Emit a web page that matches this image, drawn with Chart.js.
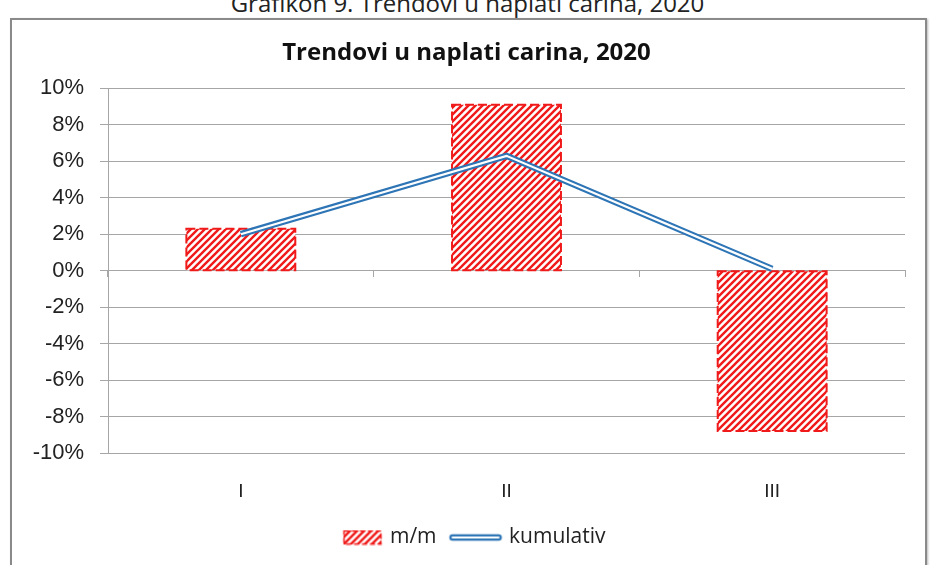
<!DOCTYPE html>
<html>
<head>
<meta charset="utf-8">
<script src="https://cdn.jsdelivr.net/npm/chart.js@4.4.1/dist/chart.umd.min.js"></script>
<style>
  html, body { margin: 0; padding: 0; background: #fff; }
  body { width: 935px; height: 565px; position: relative; overflow: hidden; }
  #caption {
    position: absolute; left: 0; width: 935px; top: -14px;
    text-align: center; font: 24px "Open Sans", sans-serif; color: #222;
  }
  #frame {
    position: absolute; left: 10px; top: 18px; width: 913px; height: 560px;
    border: 2px solid #8a8a8a; box-shadow: 1px 1px 2px #bbb;
  }
  #chart { position: absolute; left: 0; top: 0; }
</style>
</head>
<body>
<div id="caption">Grafikon 9. Trendovi u naplati carina, 2020</div>
<div id="frame"></div>
<canvas id="chart" width="935" height="565"></canvas>
<script>
// podaci
const categories = ['I', 'II', 'III'];
const mmValues = [2.3, 9.1, -8.8];        // m/m, %
const kumulativValues = [2.0, 6.3, 0.1];  // kumulativ, %
const yTicks = [-10, -8, -6, -4, -2, 0, 2, 4, 6, 8, 10];

const RED = '#f01a1a';
const BLUE = '#2e75b6';
const GRID = '#a6a6a6';

// kosa šrafura za stupce
function makeHatchTile() {
    const s = 7;
    const c = document.createElement('canvas');
    c.width = s; c.height = s;
    const g = c.getContext('2d');
    g.fillStyle = '#fff';
    g.fillRect(0, 0, s, s);
    g.strokeStyle = RED;
    g.lineWidth = 2.4;
    g.beginPath();
    g.moveTo(-2, s + 2); g.lineTo(s + 2, -2);
    g.moveTo(-2, 2); g.lineTo(2, -2);
    g.moveTo(s - 2, s + 2); g.lineTo(s + 2, s - 2);
    g.stroke();
    return c;
}
const hatchTile = makeHatchTile();
const hatch = document.createElement('canvas').getContext('2d').createPattern(hatchTile, 'repeat');

// sličice za legendu
function legendHatch() {
    const c = document.createElement('canvas');
    c.width = 60; c.height = 16;
    const g = c.getContext('2d');
    g.fillStyle = g.createPattern(hatchTile, 'repeat');
    g.fillRect(20, 1, 38, 14);
    g.strokeStyle = RED; g.lineWidth = 1.5; g.setLineDash([5, 3]);
    g.strokeRect(20.5, 1.5, 37, 13);
    return c;
}
function legendLine() {
    const c = document.createElement('canvas');
    c.width = 60; c.height = 10;
    const g = c.getContext('2d');
    g.lineCap = 'round';
    g.strokeStyle = BLUE; g.lineWidth = 6.5;
    g.beginPath(); g.moveTo(10, 5); g.lineTo(56, 5); g.stroke();
    g.strokeStyle = '#fff'; g.lineWidth = 2.2;
    g.beginPath(); g.moveTo(10, 5); g.lineTo(56, 5); g.stroke();
    return c;
}
const legendImgs = [legendHatch(), legendLine()];

// isprekidani rub stupaca
const dashedBorder = {
    id: 'dashedBorder',
    afterDatasetDraw(chart, args) {
        if (args.index !== 0) return;
        const ctx = chart.ctx;
        ctx.save();
        ctx.strokeStyle = RED;
        ctx.lineWidth = 2;
        ctx.setLineDash([9, 4]);
        args.meta.data.forEach(bar => {
            const p = bar.getProps(['x', 'y', 'base', 'width'], true);
            const top = Math.min(p.y, p.base), h = Math.abs(p.base - p.y);
            ctx.strokeRect(p.x - p.width / 2, top, p.width, h);
        });
        ctx.restore();
    }
};

new Chart(document.getElementById('chart'), {
    type: 'bar',
    data: {
        labels: categories,
        datasets: [
            {
                label: 'm/m',
                data: mmValues,
                backgroundColor: hatch,
                borderWidth: 0,
                categoryPercentage: 1,
                barPercentage: 0.41,
                order: 3
            },
            {
                type: 'line',
                label: 'kumulativ',
                data: kumulativValues,
                borderColor: BLUE,
                borderWidth: 6.5,
                pointRadius: 0,
                tension: 0,
                fill: false,
                order: 2
            },
            {
                type: 'line',
                label: '_inner',
                data: kumulativValues,
                borderColor: '#fff',
                borderWidth: 2.2,
                pointRadius: 0,
                tension: 0,
                fill: false,
                order: 1
            }
        ]
    },
    options: {
        responsive: false,
        animation: false,
        devicePixelRatio: 1,
        layout: { padding: { left: 28, right: 30, top: 31, bottom: 7 } },
        plugins: {
            title: {
                display: true,
                text: 'Trendovi u naplati carina, 2020',
                color: '#111',
                font: { family: 'Open Sans', size: 24, weight: 'bold' },
                padding: { top: 8, bottom: 20.6 }
            },
            legend: {
                position: 'bottom',
                labels: {
                    usePointStyle: true,
                    pointStyleWidth: 52,
                    color: '#222',
                    padding: 10,
                    font: { family: 'Open Sans', size: 21 },
                    generateLabels(chart) {
                        return chart.data.datasets
                            .map((ds, i) => ({ ds, i }))
                            .filter(o => o.ds.label !== '_inner')
                            .map((o, k) => ({
                                text: o.ds.label,
                                datasetIndex: o.i,
                                pointStyle: legendImgs[k],
                                fontColor: '#222',
                                lineWidth: 0
                            }));
                    }
                }
            },
            tooltip: { enabled: false }
        },
        scales: {
            x: {
                position: 'bottom',
                grid: { display: false, drawTicks: false },
                border: { display: false },
                afterFit(scale) { scale.height = 64; },
                ticks: {
                    padding: 27,
                    color: '#222',
                    font: { family: 'Liberation Sans', size: 19 }
                }
            },
            x0: {
                type: 'category',
                labels: categories,
                position: { y: 0 },
                grid: { display: true, drawOnChartArea: false, drawTicks: true, tickLength: 6, offset: true, color: GRID },
                border: { display: true, color: GRID },
                ticks: { display: false }
            },
            y: {
                min: -10,
                max: 10,
                afterBuildTicks(scale) {
                    scale.ticks = yTicks.map(v => ({ value: v }));
                },
                afterFit(scale) { scale.width = 80; },
                grid: { color: GRID, tickLength: 8 },
                border: { display: true, color: GRID },
                ticks: {
                    padding: 16,
                    color: '#222',
                    font: { family: 'Liberation Sans', size: 22 },
                    callback: v => v + '%'
                }
            }
        }
    },
    plugins: [dashedBorder]
});
</script>
</body>
</html>
